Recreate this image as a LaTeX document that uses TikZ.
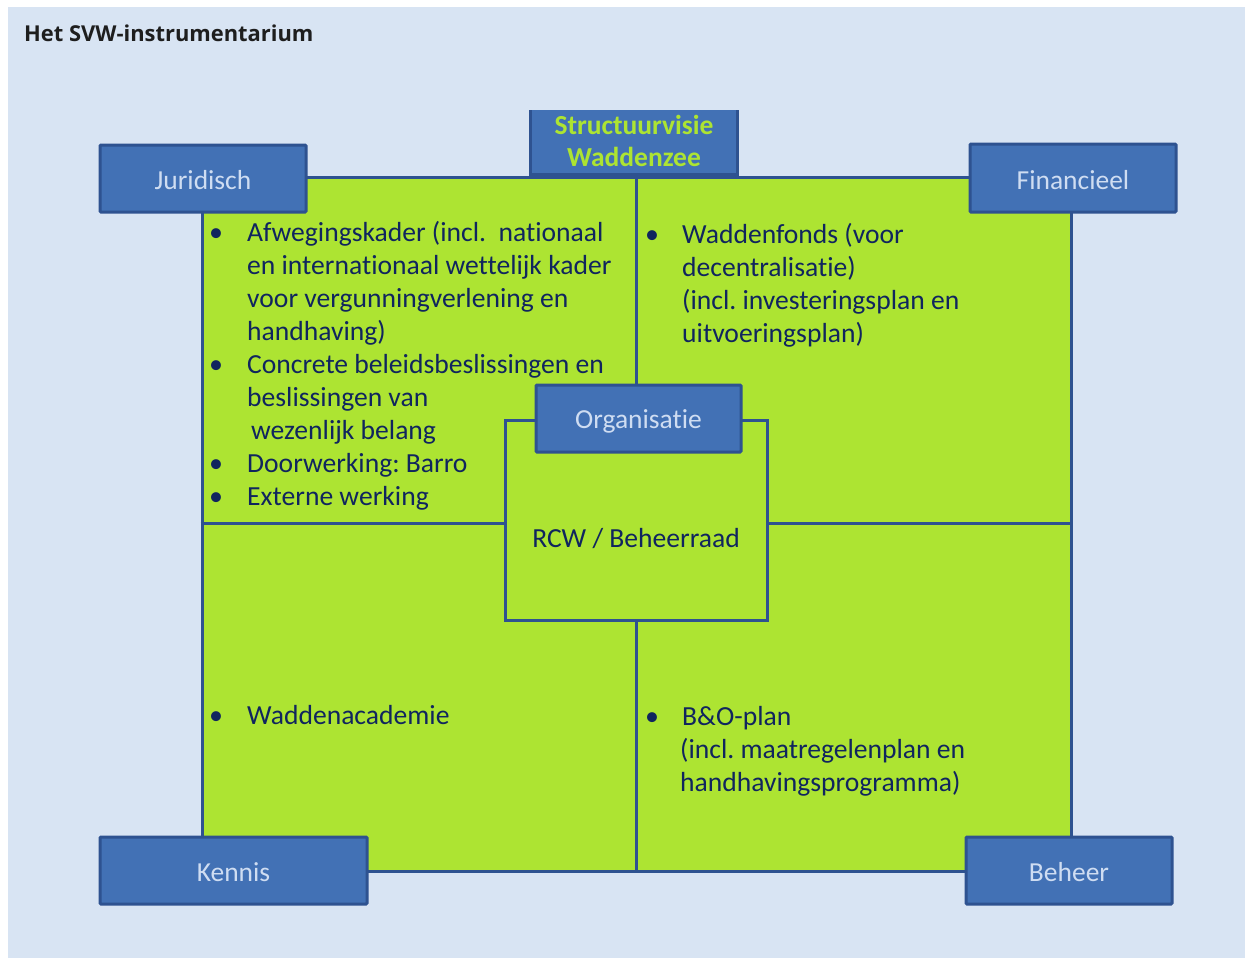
\documentclass[tikz,border=0pt]{standalone}
\usepackage{fontspec}
\setmainfont{Carlito}[RawFeature={-liga}]
\newfontfamily\titlefont{Open Sans}
\frenchspacing
\definecolor{bgblue}{HTML}{D8E4F3}
\definecolor{lime}{HTML}{ADE432}
\definecolor{boxblue}{HTML}{4271B5}
\definecolor{edge}{HTML}{2E5290}
\definecolor{boxtext}{HTML}{CFDDF2}
\definecolor{navy}{HTML}{10255E}
\definecolor{titlecol}{HTML}{1E1E1E}
\begin{document}
\begin{tikzpicture}[x=1pt,y=-1pt,
  catbox/.style={draw=edge, fill=boxblue, line width=3pt, rounded corners=1pt,
    inner sep=0pt, text=boxtext, font=\fontsize{27.5}{32}\selectfont},
  panel/.style={draw=edge, fill=lime, line width=3pt, inner sep=0pt},
  divider/.style={draw=edge, line width=3pt},
  body/.style={anchor=base west, inner sep=0pt, text=navy, font=\fontsize{27.6}{33}\selectfont},
  bullet/.style={anchor=base west, inner sep=0pt, text=navy, font=\fontsize{28}{33}\selectfont},
  boxlabel/.style={anchor=base, inner sep=0pt, text=boxtext, font=\fontsize{27.5}{32}\selectfont}
]
\useasboundingbox (0,0) rectangle (1245,958);
\fill[bgblue] (8,7) rectangle (1245,958);
\node[anchor=base west, inner sep=0pt, text=titlecol, font=\titlefont\bfseries\fontsize{21.9}{26}\selectfont] (title) at (24,42) {Het SVW-instrumentarium};

% main panel
\node[panel, minimum width=869pt, minimum height=694pt] (grid) at (636.5,524) {};
\draw[divider] (grid.north) -- (636.5,385);
\draw[divider] (636.5,620) -- (grid.south);
\draw[divider] (grid.west |- 0,523) -- (505,523);
\draw[divider] (767,523) -- (grid.east |- 0,523);

% centre box
\node[panel, minimum width=262pt, minimum height=200pt] (rcw) at (636,520) {};
\node[anchor=base, inner sep=0pt, text=navy, font=\fontsize{27.6}{33}\selectfont] (rcwtext) at (636,547) {RCW / Beheerraad};
\node[catbox, minimum width=205pt, minimum height=67pt] (org) at (638.5,418.5) {};
\node[boxlabel] (orgtext) at (638.5,428) {Organisatie};

% top title box (no top edge)
\fill[boxblue] (530,110) rectangle (737,174);
\draw[divider] (530,110) -- (530,174) -- (737,174) -- (737,110);
\node[anchor=base, inner sep=0pt, text=lime, font=\bfseries\fontsize{27.5}{32}\selectfont] (svw1) at (634,134) {Structuurvisie};
\node[anchor=base, inner sep=0pt, text=lime, font=\bfseries\fontsize{27.5}{32}\selectfont] (svw2) at (634,166) {Waddenzee};

% corner boxes
\node[catbox, minimum width=206pt, minimum height=67pt] (jur) at (203,178.5) {};
\node[boxlabel] (jurtext) at (203,189) {Juridisch};
\node[catbox, minimum width=206pt, minimum height=68pt] (fin) at (1073,178) {};
\node[boxlabel] (fintext) at (1073,189) {Financieel};
\node[catbox, minimum width=267pt, minimum height=67pt] (ken) at (233.5,870.5) {};
\node[boxlabel] (kentext) at (233.5,881) {Kennis};
\node[catbox, minimum width=206pt, minimum height=67pt] (beh) at (1069,870.5) {};
\node[boxlabel] (behtext) at (1069,881) {Beheer};

% left top text
\node[bullet] (b1) at (209,241) {•};
\node[body] (l1) at (247,241) {Afwegingskader (incl.\ \ nationaal};
\node[body] (l2) at (247,274) {en internationaal wettelijk kader};
\node[body] (l3) at (247,307) {voor vergunningverlening en};
\node[body] (l4) at (247,340) {handhaving)};
\node[bullet] (b2) at (209,373) {•};
\node[body] (l5) at (247,373) {Concrete beleidsbeslissingen en};
\node[body] (l6) at (247,406) {beslissingen van};
\node[body] (l7) at (251,439) {wezenlijk belang};
\node[bullet] (b3) at (209,472) {•};
\node[body] (l8) at (247,472) {Doorwerking: Barro};
\node[bullet] (b4) at (209,505) {•};
\node[body] (l9) at (247,505) {Externe werking};

% right top text
\node[bullet] (b5) at (645,243) {•};
\node[body] (r1) at (682,243) {Waddenfonds (voor};
\node[body] (r2) at (682,276) {decentralisatie)};
\node[body] (r3) at (682,309) {(incl. investeringsplan en};
\node[body] (r4) at (682,342) {uitvoeringsplan)};

% bottom left text
\node[bullet] (b6) at (209,724) {•};
\node[body] (k1) at (247,724) {Waddenacademie};

% bottom right text
\node[bullet] (b7) at (645,725) {•};
\node[body] (p1) at (682,725) {B\&O-plan};
\node[body] (p2) at (680,758) {(incl. maatregelenplan en};
\node[body] (p3) at (680,791) {handhavingsprogramma)};
\end{tikzpicture}
\end{document}
